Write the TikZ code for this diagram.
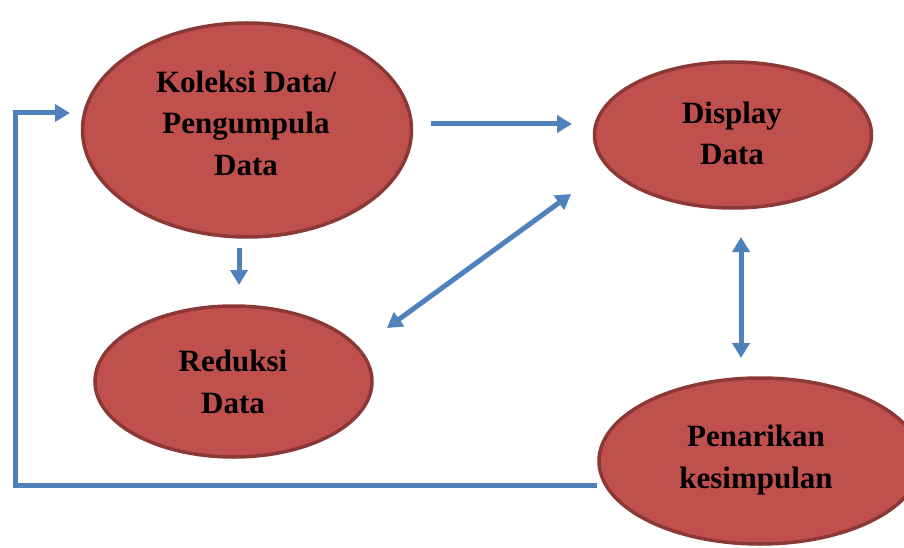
\documentclass[tikz,border=0pt]{standalone}
\usepackage{fontspec}
\setmainfont{Liberation Serif}
\usetikzlibrary{shapes.geometric,arrows.meta}
\definecolor{ellfill}{HTML}{C0504D}
\definecolor{elldraw}{HTML}{8C3836}
\definecolor{arrblue}{HTML}{4F81BD}
\begin{document}
\begin{tikzpicture}[x=1pt,y=-1pt,
  oval/.style={ellipse, draw=elldraw, fill=ellfill, line width=3.5pt, inner sep=0pt},
  lbl/.style={align=center, font=\bfseries\fontsize{31}{41.5}\selectfont, text=black, inner sep=0pt},
  flow/.style={draw=arrblue, line width=5pt, -{Triangle[width=17pt,length=15pt]}},
  flowboth/.style={draw=arrblue, line width=5pt, {Triangle[width=17pt,length=15pt]}-{Triangle[width=17pt,length=15pt]}}
]
\useasboundingbox (0,0) rectangle (904,548);
% ellipses
\node[oval, minimum width=329pt, minimum height=214pt] (kol) at (247,130) {};
\node[oval, minimum width=277pt, minimum height=146pt] (dis) at (733,135) {};
\node[oval, minimum width=277pt, minimum height=151pt] (red) at (233.5,381.5) {};
\node[oval, minimum width=322pt, minimum height=166pt] (pen) at (760,461) {};
% labels
\node[lbl] (kolt) at (246,123) {Koleksi Data/\\Pengumpula\\Data};
\node[lbl] (dist) at (732,133.5) {Display\\Data};
\node[lbl] (redt) at (233,382) {Reduksi\\Data};
\node[lbl] (pent) at (756,460) {Penarikan\\kesimpulan};
% connector end points
\coordinate (a1) at (431,124);
\coordinate (a2) at (572,124);
\coordinate (b1) at (239,248);
\coordinate (b2) at (239,285);
\coordinate (c1) at (387,328);
\coordinate (c2) at (571,194);
\coordinate (d1) at (741,237);
\coordinate (d2) at (741,358);
\coordinate (e1) at (597,485);
\coordinate (e2) at (15,485);
\coordinate (e3) at (15,113);
\coordinate (e4) at (70,113);
% connectors
\draw[flow] (a1) -- (a2);
\draw[flow] (b1) -- (b2);
\draw[flowboth] (c1) -- (c2);
\draw[flowboth] (d1) -- (d2);
\draw[flow, line join=miter] (e1) -- (e2) -- (e3) -- (e4);
\end{tikzpicture}
\end{document}
